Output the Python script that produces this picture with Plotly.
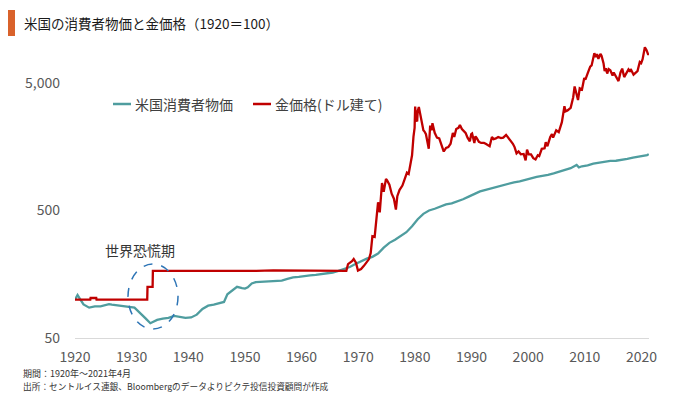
import plotly.graph_objects as go
import math

# ---------------- data (index, 1920 = 100) ----------------
cpi_years = [1920.0, 1920.45, 1920.9, 1921.5, 1922.5, 1923.5, 1924.5, 1925.5, 1926.0, 1926.5,
             1927.5, 1928.5, 1929.5, 1930.0, 1930.5, 1931.0, 1931.5, 1932.0, 1932.5, 1933.3,
             1933.9, 1934.5, 1935.5, 1936.5, 1937.5, 1938.5, 1939.5, 1940.5, 1941.5, 1942.5,
             1943.5, 1944.5, 1945.5, 1946.3, 1946.9, 1947.5, 1948.6, 1949.5, 1950.0, 1950.5,
             1951.2, 1951.9, 1952.5, 1953.5, 1954.5, 1955.5, 1956.5, 1957.5, 1958.5, 1959.5,
             1960.5, 1961.5, 1962.5, 1963.5, 1964.5, 1965.5, 1966.5, 1967.5, 1968.5, 1969.5,
             1970.5, 1971.5, 1972.5, 1973.5, 1974.5, 1975.5, 1976.5, 1977.5, 1978.5, 1979.5,
             1980.5, 1981.5, 1982.5, 1983.5, 1984.5, 1985.5, 1986.5, 1987.5, 1988.5, 1989.5,
             1990.5, 1991.5, 1992.5, 1993.5, 1994.5, 1995.5, 1996.5, 1997.5, 1998.5, 1999.5,
             2000.5, 2001.5, 2002.5, 2003.5, 2004.5, 2005.5, 2006.5, 2007.5, 2008.55, 2008.95,
             2009.5, 2010.5, 2011.5, 2012.5, 2013.5, 2014.5, 2015.5, 2016.5, 2017.5, 2018.5,
             2019.5, 2020.3, 2020.5, 2021.0, 2021.29]
cpi_values = [100, 108.8, 101, 91.7, 86.5, 88.6, 88.6, 90.7, 92.2, 91.2,
              90.2, 88.6, 88.6, 88.1, 86.5, 82.4, 78.8, 74.6, 71.0, 65.3,
              67.4, 69.4, 71.0, 72.0, 74.6, 73.1, 72.0, 72.5, 76.2, 84.5,
              89.6, 91.2, 93.3, 95.9, 110, 115.5, 126, 123, 122, 124.9,
              134, 137, 137.3, 138.3, 139.4, 138.9, 140.9, 145.6, 149.7, 150.8,
              153.4, 154.9, 156.5, 158.5, 160.6, 163.2, 167.9, 173.1, 180.3, 190.2,
              201.0, 209.8, 216.6, 230.1, 255.4, 278.8, 294.8, 314.0, 337.8, 376.2,
              426.9, 471.0, 500.0, 516.1, 538.3, 557.5, 567.9, 588.6, 613.0, 642.5,
              677.2, 705.7, 726.9, 748.7, 767.9, 789.6, 813.0, 831.6, 844.6, 863.2,
              892.2, 917.6, 932.1, 953.4, 978.8, 1011.9, 1044.6, 1074.1, 1137, 1090,
              1111.4, 1130.1, 1165.3, 1189.6, 1207.3, 1226.4, 1228.0, 1243.5, 1270.0, 1301.0,
              1324.9, 1328, 1340.9, 1361, 1383.7]

gold_years = [1920.0, 1922.7, 1922.75, 1923.75, 1923.8, 1932.75, 1932.8, 1933.7, 1933.75, 1939.5,
              1939.6, 1944.5, 1944.6, 1952.0, 1955.0, 1958.0, 1962.0, 1967.9,
              1968.2, 1968.5, 1968.9, 1969.2, 1969.4, 1969.6, 1969.95, 1970.5, 1971.0, 1971.5,
              1971.9, 1972.2, 1972.5, 1972.9, 1973.1, 1973.5, 1973.8, 1974.0, 1974.2, 1974.5,
              1974.9, 1975.1, 1975.5, 1975.9, 1976.3, 1976.65, 1976.9, 1977.3, 1977.8, 1978.2,
              1978.6, 1978.9, 1979.2, 1979.5, 1979.75, 1979.95, 1980.05, 1980.2, 1980.4, 1980.5,
              1980.7, 1980.95, 1981.2, 1981.5, 1981.7, 1981.95, 1982.45, 1982.7, 1982.95, 1983.1,
              1983.5, 1983.9, 1984.3, 1984.6, 1985.1, 1985.5, 1985.9, 1986.3, 1986.7, 1986.95,
              1987.3, 1987.7, 1987.95, 1988.3, 1988.7, 1988.95, 1989.3, 1989.7, 1989.95, 1990.1,
              1990.5, 1990.7, 1990.95, 1991.3, 1991.7, 1992.2, 1992.5, 1992.9, 1993.2, 1993.6,
              1993.9, 1994.3, 1994.7, 1995.2, 1995.6, 1996.1, 1996.5, 1996.9, 1997.3, 1997.6,
              1997.95, 1998.3, 1998.7, 1999.2, 1999.55, 1999.8, 2000.1, 2000.5, 2000.9, 2001.3,
              2001.7, 2001.95, 2002.4, 2002.9, 2003.1, 2003.4, 2003.9, 2004.2, 2004.4, 2004.95,
              2005.4, 2005.95, 2006.4, 2006.6, 2006.95, 2007.5, 2007.95, 2008.2, 2008.6, 2008.8,
              2009.1, 2009.5, 2009.9, 2010.1, 2010.5, 2010.95, 2011.2, 2011.68, 2011.95, 2012.15,
              2012.4, 2012.75, 2012.95, 2013.3, 2013.5, 2013.7, 2013.95, 2014.2, 2014.5, 2014.9,
              2015.1, 2015.5, 2015.95, 2016.3, 2016.6, 2016.95, 2017.4, 2017.7, 2017.95, 2018.1,
              2018.6, 2018.95, 2019.3, 2019.7, 2019.95, 2020.2, 2020.6, 2020.9, 2021.1, 2021.2,
              2021.29]
gold_values = [100, 100, 103, 103, 100, 100, 126, 126, 168, 168,
               166, 166, 168, 168, 169.5, 169, 168.5, 168,
               190, 194, 200, 208, 200, 195, 169, 174, 184, 198,
               208, 232, 314, 310, 387, 580, 484, 629, 822, 701,
               885, 861, 798, 677, 619, 508, 648, 726, 784, 880,
               992, 968, 1161, 1355, 1887, 2225, 3266, 2661, 2492, 3000,
               3241, 2854, 2419, 2129, 2080, 1984, 1524, 2322, 2129, 2419,
               2032, 1863, 1838, 1669, 1451, 1548, 1572, 1669, 2032, 1887,
               2177, 2225, 2346, 2177, 2080, 2032, 1863, 1742, 1984, 2008,
               1693, 1911, 1838, 1727, 1693, 1693, 1669, 1621, 1597, 1887,
               1814, 1838, 1887, 1848, 1863, 1959, 1863, 1790, 1669, 1572,
               1403, 1451, 1379, 1388, 1238, 1500, 1379, 1379, 1287, 1258,
               1355, 1335, 1524, 1538, 1717, 1597, 1887, 1984, 1863, 2129,
               2056, 2467, 3290, 3000, 3048, 3193, 3870, 4693, 4016, 3677,
               4548, 4451, 5467, 5322, 5951, 6725, 6870, 8563, 7983, 8418,
               7741, 8466, 8176, 7160, 6193, 6531, 5927, 6434, 6290, 5709,
               6047, 5660, 5177, 6047, 6483, 5564, 6096, 6386, 6144, 6434,
               5806, 6047, 6193, 7305, 7160, 7692, 9531, 9047, 8708, 8321,
               8515]

x_tick_vals = [1920, 1930, 1940, 1950, 1960, 1970, 1980, 1990, 2000, 2010, 2020]
y_tick_vals = [50, 500, 5000]
y_tick_text = ["50", "500", "5,000"]

series_names = ["米国消費者物価", "金価格(ドル建て)"]
title_text = "米国の消費者物価と金価格（1920＝100）"
note_text = "世界恐慌期"
footnotes = ["期間：1920年～2021年4月",
             "出所：セントルイス連銀、Bloombergのデータよりピクテ投信投資顧問が作成"]

# ---------------- layout helpers ----------------
W, H = 680, 396
ML, MR, MT, MB = 75, 31, 40, 58
PW, PH = W - ML - MR, H - MT - MB
BOTTOM = H - MB

def px(xp):
    return (xp - ML) / PW

def py(yp):
    return (BOTTOM - yp) / PH

FONT = "Noto Sans CJK JP"
TEAL = "#4f9d9f"
RED = "#c00000"

fig = go.Figure()
fig.add_trace(go.Scatter(x=cpi_years, y=cpi_values, mode="lines", name=series_names[0],
                         line=dict(color=TEAL, width=2.3), showlegend=False))
fig.add_trace(go.Scatter(x=gold_years, y=gold_values, mode="lines", name=series_names[1],
                         line=dict(color=RED, width=2.3), showlegend=False))

ylo = math.log10(50)
yhi = ylo + PH / 127.5

fig.update_layout(
    width=W, height=H,
    margin=dict(l=ML, r=MR, t=MT, b=MB),
    paper_bgcolor="white", plot_bgcolor="white",
    font=dict(family=FONT, color="#595959"),
    xaxis=dict(range=[1920, 2021.33], tickvals=x_tick_vals, showgrid=False, zeroline=False,
               showline=True, linecolor="#d9d9d9", linewidth=1, ticks="",
               tickfont=dict(size=14, color="#595959"), ticklabelstandoff=6),
    yaxis=dict(type="log", range=[ylo, yhi], tickvals=y_tick_vals, ticktext=y_tick_text,
               showgrid=False, zeroline=False, showline=False, ticks="",
               tickfont=dict(size=14, color="#595959"), ticklabelstandoff=14),
)

shapes = [
    dict(type="rect", xref="paper", yref="paper", x0=px(8), x1=px(15), y0=py(36), y1=py(10),
         fillcolor="#d9622b", line=dict(width=0)),
    dict(type="line", xref="paper", yref="paper", x0=px(113), x1=px(131), y0=py(104), y1=py(104),
         line=dict(color=TEAL, width=2.5)),
    dict(type="line", xref="paper", yref="paper", x0=px(253), x1=px(271), y0=py(104), y1=py(104),
         line=dict(color=RED, width=2.5)),
    dict(type="circle", xref="paper", yref="paper", x0=px(128), x1=px(178), y0=py(329), y1=py(264),
         line=dict(color="#2e75b6", width=1.5, dash="dash")),
]
fig.update_layout(shapes=shapes)

ann = [
    dict(text=title_text, x=px(22), y=py(23), xanchor="left", yanchor="middle",
         font=dict(size=13.5, color="#1a1a1a")),
    dict(text=series_names[0], x=px(133), y=py(104), xanchor="left", yanchor="middle",
         font=dict(size=14, color="#404040")),
    dict(text=series_names[1], x=px(273), y=py(104), xanchor="left", yanchor="middle",
         font=dict(size=14, color="#404040")),
    dict(text=note_text, x=px(140), y=py(250), xanchor="center", yanchor="middle",
         font=dict(size=14, color="#333333")),
    dict(text=footnotes[0], x=px(21), y=py(373), xanchor="left", yanchor="middle",
         font=dict(size=9, color="#333333")),
    dict(text=footnotes[1], x=px(21), y=py(386), xanchor="left", yanchor="middle",
         font=dict(size=8.7, color="#333333")),
]
for a in ann:
    a.update(xref="paper", yref="paper", showarrow=False)
fig.update_layout(annotations=ann)

fig.write_html("out.html", config={"displayModeBar": False},
               post_script="document.body.style.margin='0px';document.body.style.overflow='hidden';")
